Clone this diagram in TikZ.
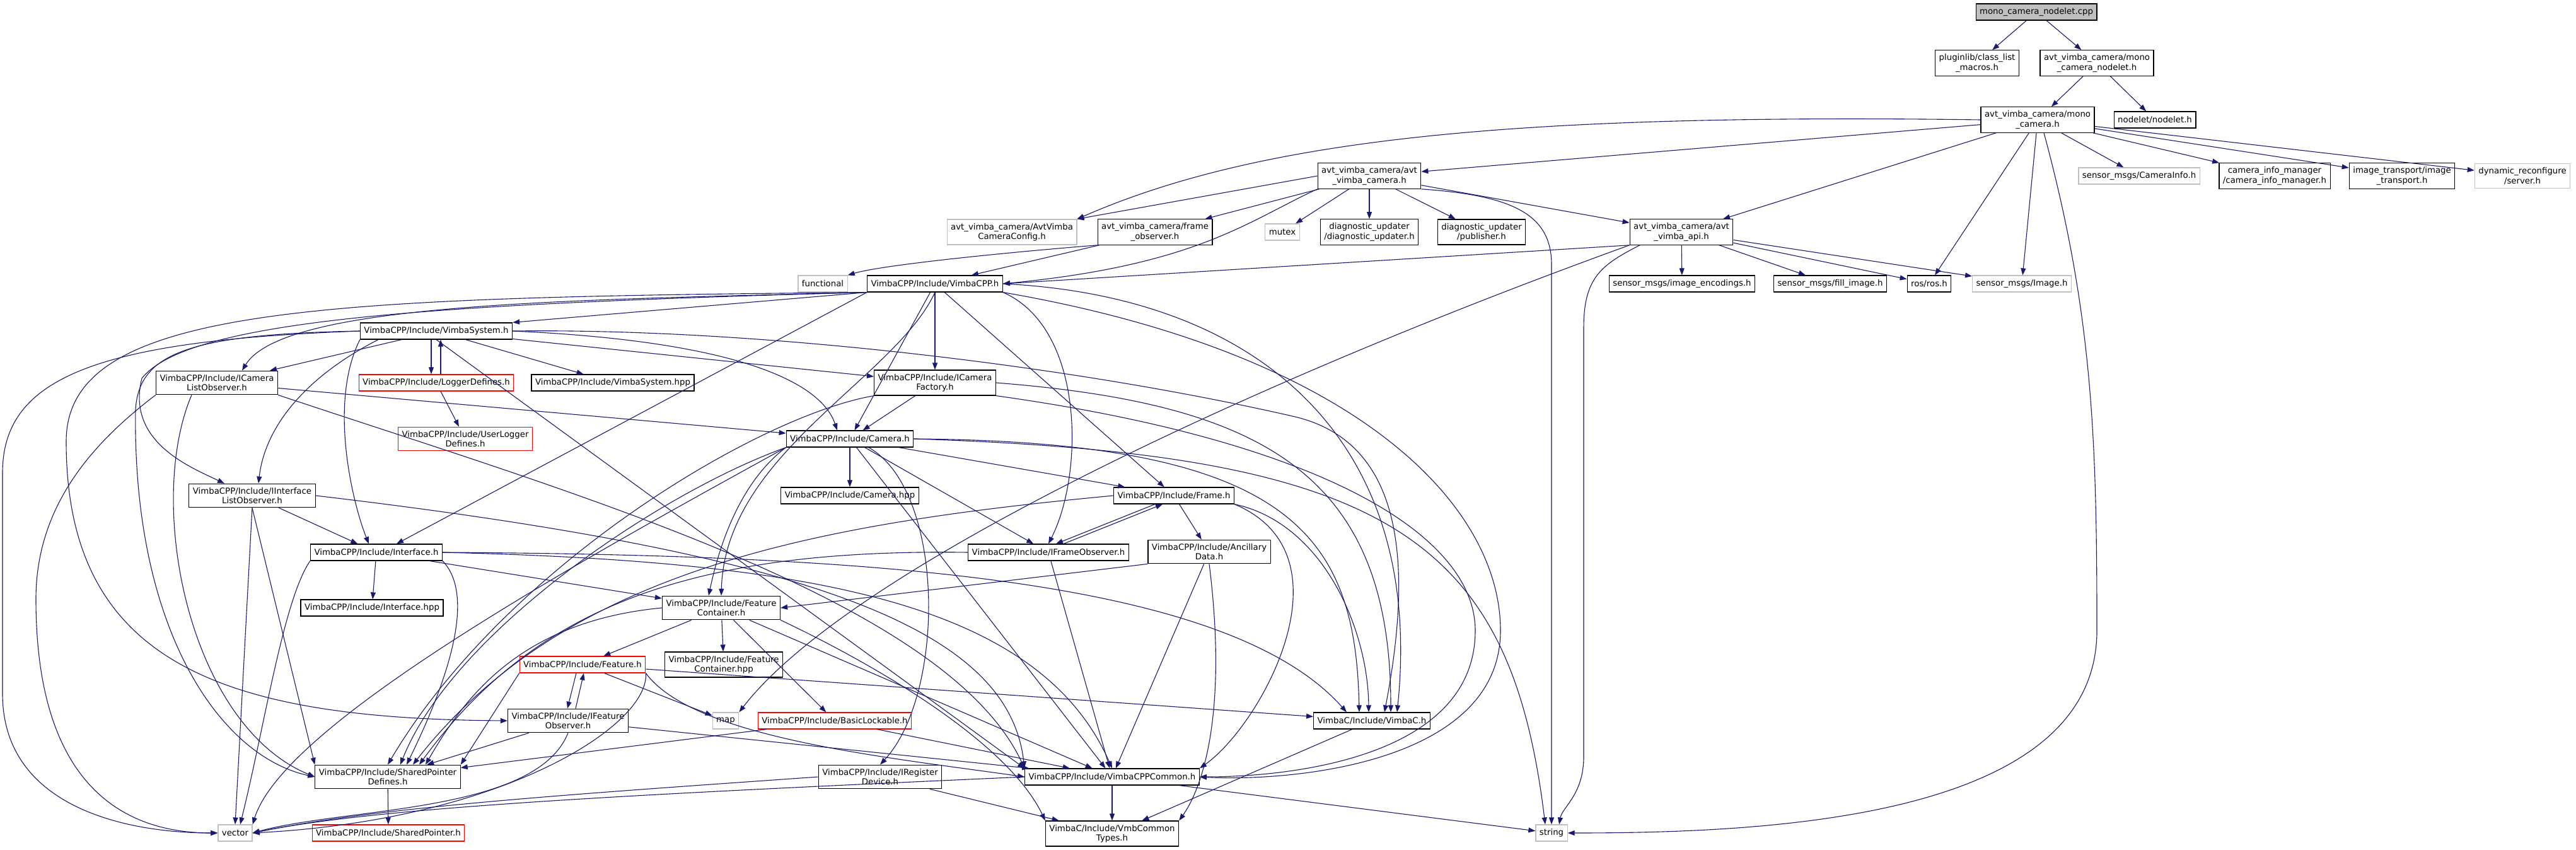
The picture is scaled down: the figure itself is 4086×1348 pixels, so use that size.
\documentclass[tikz,border=0pt]{standalone}
\usepackage{fontspec}
\setmainfont{DejaVu Sans}
\usepackage{tikz}
\usetikzlibrary{arrows.meta, positioning}
\definecolor{edgeblue}{RGB}{25,25,112}
\definecolor{sysgray}{RGB}{191,191,191}
\definecolor{rootfill}{RGB}{191,191,191}
\tikzset{
  hdr/.style={rectangle, draw=black, line width=1.2pt, fill=white, align=center,
              font=\fontsize{13.3}{15.2}\selectfont, inner xsep=6pt, inner ysep=6pt,
              minimum height=26pt},
  sys/.style={hdr, draw=sysgray},
  trunc/.style={hdr, draw=red},
  root/.style={hdr, fill=rootfill},
  dep/.style={-{Triangle[length=11pt,width=8pt]}, line width=1.1pt, draw=edgeblue},
}

\begin{document}
\begin{tikzpicture}[x=1pt, y=-1pt]
\useasboundingbox (0,0) rectangle (4086,1348);

% Plik i naglowki avt_vimba_camera
\node[root] (root) at (3230,19) {mono\_camera\_nodelet.cpp};
\node[hdr] (pluglib) at (3136,100) {pluginlib/class\_list\\\_macros.h};
\node[hdr] (nodeletH) at (3326,100) {avt\_vimba\_camera/mono\\\_camera\_nodelet.h};
\node[hdr] (monoCam) at (3232,190) {avt\_vimba\_camera/mono\\\_camera.h};
\node[hdr] (nodelet) at (3418,190) {nodelet/nodelet.h};
\node[sys] (camInfo) at (3393,279) {sensor\_msgs/CameraInfo.h};
\node[hdr] (camInfoMgr) at (3608,279) {camera\_info\_manager\\/camera\_info\_manager.h};
\node[hdr] (imgTrans) at (3810,279) {image\_transport/image\\\_transport.h};
\node[sys] (dynReconf) at (4001,279) {dynamic\_reconfigure\\/server.h};
\node[hdr] (avtCam) at (2172,279) {avt\_vimba\_camera/avt\\\_vimba\_camera.h};
\node[sys] (camConfig) at (1605,368) {avt\_vimba\_camera/AvtVimba\\CameraConfig.h};
\node[hdr] (frameObs) at (1832,368) {avt\_vimba\_camera/frame\\\_observer.h};
\node[sys] (mutex) at (2034,368) {mutex};
\node[hdr] (diagUpd) at (2172,368) {diagnostic\_updater\\/diagnostic\_updater.h};
\node[hdr] (diagPub) at (2350,368) {diagnostic\_updater\\/publisher.h};
\node[hdr] (api) at (2667,368) {avt\_vimba\_camera/avt\\\_vimba\_api.h};
\node[sys] (functional) at (1305,450) {functional};
\node[hdr] (vimbaCpp) at (1483,450) {VimbaCPP/Include/VimbaCPP.h};
\node[hdr] (imgEnc) at (2668,450) {sensor\_msgs/image\_encodings.h};
\node[hdr] (fillImg) at (2903,450) {sensor\_msgs/fill\_image.h};
\node[hdr] (ros) at (3060,450) {ros/ros.h};
\node[sys] (imgMsg) at (3207,450) {sensor\_msgs/Image.h};

% Naglowki VimbaCPP
\node[hdr] (vimbaSys) at (692,525) {VimbaCPP/Include/VimbaSystem.h};
\node[hdr] (iCamListObs) at (344,607) {VimbaCPP/Include/ICamera\\ListObserver.h};
\node[trunc] (loggerDef) at (692,607) {VimbaCPP/Include/LoggerDefines.h};
\node[hdr] (vimbaSysHpp) at (972,607) {VimbaCPP/Include/VimbaSystem.hpp};
\node[hdr] (iCamFactory) at (1483,607) {VimbaCPP/Include/ICamera\\Factory.h};
\node[trunc] (userLogger) at (738,696) {VimbaCPP/Include/UserLogger\\Defines.h};
\node[hdr] (cameraH) at (1348,696) {VimbaCPP/Include/Camera.h};
\node[hdr] (iIfListObs) at (400,786) {VimbaCPP/Include/IInterface\\ListObserver.h};
\node[hdr] (cameraHpp) at (1348,786) {VimbaCPP/Include/Camera.hpp};
\node[hdr] (frameH) at (1862,786) {VimbaCPP/Include/Frame.h};
\node[hdr] (interfaceH) at (597,876) {VimbaCPP/Include/Interface.h};
\node[hdr] (iFrameObs) at (1663,876) {VimbaCPP/Include/IFrameObserver.h};
\node[hdr] (ancData) at (1918,875) {VimbaCPP/Include/Ancillary\\Data.h};
\node[hdr] (interfaceHpp) at (590,964) {VimbaCPP/Include/Interface.hpp};
\node[hdr] (featCont) at (1144,964) {VimbaCPP/Include/Feature\\Container.h};
\node[trunc] (featureH) at (924,1054) {VimbaCPP/Include/Feature.h};
\node[hdr] (featContHpp) at (1148,1054) {VimbaCPP/Include/Feature\\Container.hpp};
\node[hdr] (iFeatObs) at (901,1143) {VimbaCPP/Include/IFeature\\Observer.h};
\node[sys] (mapH) at (1151,1143) {map};
\node[trunc] (basicLock) at (1324,1143) {VimbaCPP/Include/BasicLockable.h};
\node[hdr] (vimbaC) at (2176,1143) {VimbaC/Include/VimbaC.h};
\node[hdr] (spDefines) at (615,1232) {VimbaCPP/Include/SharedPointer\\Defines.h};
\node[hdr] (iRegDev) at (1396,1232) {VimbaCPP/Include/IRegister\\Device.h};
\node[hdr] (cppCommon) at (1764,1232) {VimbaCPP/Include/VimbaCPPCommon.h};
\node[hdr] (vmbTypes) at (1764,1322) {VimbaC/Include/VmbCommon\\Types.h};
\node[sys] (vector) at (373,1321) {vector};
\node[trunc] (spH) at (616,1321) {VimbaCPP/Include/SharedPointer.h};
\node[sys] (string) at (2461,1321) {string};

% Proste zaleznosci
\foreach \a/\b in {root/pluglib, root/nodeletH, nodeletH/monoCam, nodeletH/nodelet,
    monoCam/avtCam, monoCam/api, monoCam/ros, monoCam/imgMsg, monoCam/camInfo,
    monoCam/camInfoMgr, monoCam/imgTrans, monoCam/dynReconf,
    avtCam/frameObs, avtCam/mutex, avtCam/diagUpd, avtCam/diagPub, avtCam/api,
    frameObs/vimbaCpp, api/imgEnc, api/fillImg, api/ros, api/imgMsg,
    vimbaCpp/cameraH, vimbaCpp/iCamFactory, vimbaCpp/frameH,
    vimbaSys/vimbaSysHpp, vimbaSys/iCamFactory, loggerDef/userLogger,
    iCamListObs/cameraH, iIfListObs/interfaceH, iCamFactory/cameraH,
    cameraH/cameraHpp, cameraH/frameH, cameraH/iFrameObs, cameraH/cppCommon,
    interfaceH/interfaceHpp, interfaceH/featCont, frameH/ancData,
    iFrameObs/cppCommon, ancData/cppCommon,
    featCont/featureH, featCont/featContHpp, featCont/basicLock, featCont/cppCommon,
    featureH/mapH, featureH/vimbaC, iFeatObs/spDefines, iFeatObs/cppCommon,
    basicLock/spDefines, basicLock/cppCommon, spDefines/spH, iRegDev/vmbTypes,
    cppCommon/vmbTypes, cppCommon/string, vimbaC/vmbTypes}
  \draw[dep] (\a) -- (\b);

\draw[dep] (avtCam.west) -- (camConfig.north east);
\draw[dep] (api.south west) -- (vimbaCpp.east);
\draw[dep] (vimbaCpp.south west) -- (vimbaSys.north east);
\draw[dep] (vimbaCpp.south west) -- ([xshift=32pt]interfaceH.north);
\draw[dep] ([xshift=-55pt]vimbaSys.south) -- ([xshift=84pt]iCamListObs.north);
\draw[dep] (vimbaSys.south) -- (cppCommon.north west);
\draw[dep] (iIfListObs.south) -- (vector.north);
\draw[dep] (iIfListObs.south) -- (spDefines.north west);
\draw[dep] (ancData.south west) -- (featCont.east);
\draw[dep] (featureH.south west) -- (spDefines.north east);

% Petle (cykle)
\draw[dep] ([xshift=-8pt]vimbaSys.south) -- ([xshift=-8pt]loggerDef.north);
\draw[dep] ([xshift=7pt]loggerDef.north) -- ([xshift=7pt]vimbaSys.south);
\draw[dep] ([xshift=-30pt]frameH.south) -- ([xshift=12pt]iFrameObs.north);
\draw[dep] ([xshift=24pt]iFrameObs.north) -- ([xshift=-18pt]frameH.south);
\draw[dep] ([xshift=-10pt]featureH.south) -- ([xshift=-1pt]iFeatObs.north);
\draw[dep] ([xshift=12pt]iFeatObs.north) -- ([xshift=2pt]featureH.south);

% Krzywe
\draw[dep] (monoCam.west) .. controls (2400,180) and (2000,220) .. (camConfig.north east);
\draw[dep] ([xshift=10pt]monoCam.south) .. controls (3320,500) and (3326,700) .. (3326,1000)
  .. controls (3326,1300) and (2800,1321) .. (string.east);
\draw[dep] (avtCam.south east) .. controls (2400,310) and (2461,340) .. (2461,420) -- (string.north);
\draw[dep] ([xshift=-66pt]api.south) .. controls (2540,420) and (2512,440) .. (2512,520) -- (2512,1200)
  .. controls (2512,1260) and (2478,1280) .. ([xshift=12pt]string.north);
\draw[dep] (cameraH.east) .. controls (2200,720) and (2395,850) .. ([xshift=-10pt]string.north);
\draw[dep] (avtCam.south west) .. controls (1980,350) and (1900,420) .. (vimbaCpp.east);
\draw[dep] (frameObs.south west) .. controls (1600,400) and (1400,420) .. (functional.north east);
\draw[dep] (api.south west) .. controls (2000,600) and (1350,900) .. (mapH.north east);

\draw[dep] (vimbaCpp.south west) .. controls (900,476) and (450,480) .. ([xshift=40pt]iCamListObs.north);
\draw[dep] (vimbaCpp.south west) .. controls (700,482) and (300,505) .. (225,600)
  .. controls (200,700) and (300,740) .. ([xshift=-44pt]iIfListObs.north);
\draw[dep] (vimbaCpp.south west) .. controls (500,472) and (105,485) .. (105,700)
  .. controls (105,1050) and (350,1140) .. (iFeatObs.west);
\draw[dep] (vimbaCpp.south) .. controls (1420,600) and (1150,720) .. (featCont.north);
\draw[dep] (vimbaCpp.south east) .. controls (1720,520) and (1720,750) .. (iFrameObs.north);
\draw[dep] (vimbaCpp.east) .. controls (2000,470) and (2260,700) .. ([xshift=40pt]vimbaC.north);
\draw[dep] (vimbaCpp.south east) .. controls (2150,560) and (2380,800) .. (2380,1000)
  .. controls (2380,1210) and (2050,1240) .. (cppCommon.east);

\draw[dep] (vimbaSys.west) .. controls (150,540) and (4,600) .. (4,750) -- (4,1100)
  .. controls (4,1280) and (200,1321) .. (vector.west);
\draw[dep] (vimbaSys.west) .. controls (300,530) and (220,560) .. (215,650)
  .. controls (210,1000) and (350,1200) .. (spDefines.west);
\draw[dep] ([xshift=-92pt]vimbaSys.south) .. controls (480,600) and (420,680) .. ([xshift=10pt]iIfListObs.north);
\draw[dep] (vimbaSys.south west) .. controls (520,640) and (560,800) .. ([xshift=-12pt]interfaceH.north);
\draw[dep] (vimbaSys.east) .. controls (1150,540) and (1300,600) .. ([xshift=-20pt]cameraH.north);
\draw[dep] (vimbaSys.east) .. controls (1200,520) and (1700,580) .. (2050,660)
  .. controls (2230,700) and (2240,900) .. ([xshift=20pt]vimbaC.north);

\draw[dep] (iCamListObs.south west) .. controls (150,700) and (57,800) .. (57,950)
  .. controls (57,1250) and (200,1321) .. (vector.west);
\draw[dep] ([xshift=-40pt]iCamListObs.south) .. controls (230,800) and (300,1150) .. (spDefines.west);
\draw[dep] (iCamListObs.south east) .. controls (900,780) and (1500,950) .. (cppCommon.north west);
\draw[dep] (iIfListObs.east) .. controls (1300,880) and (1600,1000) .. (cppCommon.north west);

\draw[dep] (iCamFactory.south west) .. controls (1200,660) and (800,900) .. (spDefines.north);
\draw[dep] (iCamFactory.east) .. controls (2000,640) and (2206,750) .. ([xshift=30pt]vimbaC.north);
\draw[dep] (iCamFactory.south east) .. controls (2100,700) and (2340,850) .. (2340,1000)
  .. controls (2340,1200) and (2050,1232) .. (cppCommon.east);

\draw[dep] (cameraH.south west) .. controls (1050,780) and (720,1000) .. ([xshift=20pt]spDefines.north);
\draw[dep] (cameraH.south west) .. controls (900,900) and (450,1150) .. (vector.north east);
\draw[dep] (cameraH.south west) .. controls (1180,760) and (1144,850) .. ([xshift=-20pt]featCont.north);
\draw[dep] ([xshift=30pt]cameraH.south) .. controls (1500,780) and (1500,1100) .. (iRegDev.north);
\draw[dep] (cameraH.east) .. controls (2050,700) and (2150,850) .. ([xshift=-20pt]vimbaC.north);

\draw[dep] (interfaceH.south west) .. controls (450,950) and (420,1150) .. ([xshift=8pt]vector.north);
\draw[dep] (interfaceH.south east) .. controls (760,950) and (700,1100) .. ([xshift=30pt]spDefines.north);
\draw[dep] (interfaceH.east) .. controls (1400,880) and (1950,920) .. ([xshift=-40pt]vimbaC.north);
\draw[dep] (interfaceH.east) .. controls (1300,890) and (1650,960) .. (cppCommon.north);

\draw[dep] (frameH.west) .. controls (1300,830) and (900,900) .. ([xshift=40pt]spDefines.north);
\draw[dep] (frameH.south east) .. controls (2100,830) and (2170,1000) .. ([xshift=-5pt]vimbaC.north);
\draw[dep] (frameH.south east) .. controls (2150,880) and (2000,1150) .. (cppCommon.north east);
\draw[dep] (iFrameObs.west) .. controls (1100,870) and (850,960) .. ([xshift=50pt]spDefines.north);
\draw[dep] (ancData.south) .. controls (1950,1150) and (1900,1260) .. (vmbTypes.north east);

\draw[dep] (featCont.west) .. controls (830,985) and (740,1100) .. ([xshift=60pt]spDefines.north);
\draw[dep] (featCont.south east) .. controls (1400,1060) and (1600,1180) .. (vmbTypes.north west);
\draw[dep] (featureH.south east) .. controls (1030,1150) and (800,1300) .. (vector.east);
\draw[dep] (featureH.south east) .. controls (1100,1170) and (1400,1200) .. (cppCommon.west);
\draw[dep] (iFeatObs.south) .. controls (850,1290) and (550,1280) .. (vector.east);
\draw[dep] (iRegDev.west) .. controls (900,1260) and (600,1280) .. (vector.east);
\draw[dep] (cppCommon.west) .. controls (1000,1260) and (600,1280) .. (vector.east);

\end{tikzpicture}
\end{document}
